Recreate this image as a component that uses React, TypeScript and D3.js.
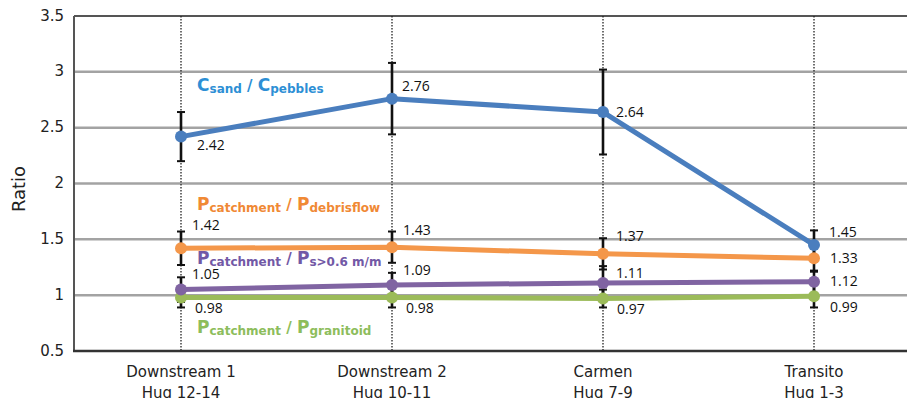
import React from "react";
import * as d3 from "d3";

const W = 907;
const H = 398;

const categories = ["Downstream 1", "Downstream 2", "Carmen", "Transito"];
const subCategories = ["Hug 12-14", "Hug 10-11", "Hug 7-9", "Hug 1-3"];

const sandPebbles = [2.42, 2.76, 2.64, 1.45];
const sandPebblesErr = [0.22, 0.32, 0.38, 0.13];
const debrisflow = [1.42, 1.43, 1.37, 1.33];
const debrisflowErr = [0.15, 0.14, 0.14, 0.12];
const coarse = [1.05, 1.09, 1.11, 1.12];
const coarseErr = [0.11, 0.11, 0.15, 0.1];
const granitoid = [0.98, 0.98, 0.97, 0.99];
const granitoidErr = [0.09, 0.09, 0.08, 0.1];

const yTicks = [0.5, 1, 1.5, 2, 2.5, 3, 3.5];

type Series = {
  values: number[];
  err: number[];
  line: string;
  text: string;
  main: string;
  subA: string;
  subB: string;
  labelAt: [number, number];
  // offset of each value label from its point: [dx, dy]
  valueOffsets: [number, number][];
};

const series: Series[] = [
  {
    values: granitoid,
    err: granitoidErr,
    line: "#9bbb59",
    text: "#8dbd5c",
    main: "P",
    subA: "catchment",
    subB: "granitoid",
    labelAt: [197, 333],
    valueOffsets: [[14, 12], [14, 12], [14, 12], [16, 12]],
  },
  {
    values: coarse,
    err: coarseErr,
    line: "#8064a2",
    text: "#7259a6",
    main: "P",
    subA: "catchment",
    subB: "s>0.6 m/m",
    labelAt: [197, 264],
    valueOffsets: [[11, -14], [11, -14], [13, -9], [16, 0]],
  },
  {
    values: debrisflow,
    err: debrisflowErr,
    line: "#f4974a",
    text: "#f08935",
    main: "P",
    subA: "catchment",
    subB: "debrisflow",
    labelAt: [197, 210],
    valueOffsets: [[11, -22], [11, -16], [13, -17], [16, 1]],
  },
  {
    values: sandPebbles,
    err: sandPebblesErr,
    line: "#4a7ebe",
    text: "#2d8fd5",
    main: "C",
    subA: "sand",
    subB: "pebbles",
    labelAt: [197, 91],
    valueOffsets: [[16, 10], [10, -11], [13, 1], [15, -12]],
  },
];

const left = 74;
const top = 16;
const bottom = 351;

const y = d3.scaleLinear().domain([0.5, 3.5]).range([bottom, top]);
const x = d3.scalePoint<string>().domain(categories).range([181, 814]);

const axisFont = "'DejaVu Sans', sans-serif";
const numFont = "'Open Sans', sans-serif";

export default function App() {
  const line = d3
    .line<number>()
    .x((_, i) => x(categories[i]) as number)
    .y((d) => y(d));

  return (
    <svg
      width={W}
      height={H}
      style={{ position: "absolute", left: 0, top: 0, background: "#fff" }}
    >
      <rect width={W} height={H} fill="#fff" />
      {/* horizontal gridlines */}
      {yTicks.slice(1, -1).map((t) => (
        <line
          key={t}
          x1={left}
          x2={W}
          y1={y(t)}
          y2={y(t)}
          stroke="#a3a3a3"
          strokeWidth={2.5}
        />
      ))}
      {/* frame */}
      <line x1={left} x2={W} y1={y(3.5)} y2={y(3.5)} stroke="#555" strokeWidth={2} />
      <line x1={left} x2={left} y1={top} y2={bottom} stroke="#555" strokeWidth={2} />
      {/* category guide lines */}
      {categories.map((c) => (
        <line
          key={c}
          x1={x(c)}
          x2={x(c)}
          y1={top}
          y2={bottom}
          stroke="#222"
          strokeWidth={1.3}
          strokeDasharray="1.5,1.5"
        />
      ))}
      <line x1={left - 1} x2={W} y1={y(0.5)} y2={y(0.5)} stroke="#333" strokeWidth={2.5} />

      {/* y tick labels */}
      {yTicks.map((t) => (
        <text
          key={t}
          x={64}
          y={y(t)}
          textAnchor="end"
          dominantBaseline="middle"
          fontFamily={axisFont}
          fontSize={15}
          fill="#222"
        >
          {String(t)}
        </text>
      ))}
      <text
        transform={`translate(25,${189}) rotate(-90)`}
        textAnchor="middle"
        fontFamily={axisFont}
        fontSize={18}
        fill="#222"
      >
        Ratio
      </text>

      {/* x tick labels */}
      {categories.map((c, i) => (
        <g key={c} fontFamily={axisFont} fontSize={15} fill="#222" textAnchor="middle">
          <text x={x(c)} y={377}>
            {c}
          </text>
          <text x={x(c)} y={398}>
            {subCategories[i]}
          </text>
        </g>
      ))}

      {/* series lines */}
      {series.map((s, si) => (
        <path
          key={"l" + si}
          d={line(s.values) || ""}
          fill="none"
          stroke={s.line}
          strokeWidth={5}
          strokeLinejoin="round"
        />
      ))}

      {/* error bars */}
      {series.map((s, si) =>
        s.values.map((v, i) => {
          const cx = x(categories[i]) as number;
          const y1 = y(v + s.err[i]);
          const y2 = y(v - s.err[i]);
          return (
            <g key={`e${si}-${i}`} stroke="#111">
              <line x1={cx} x2={cx} y1={y1} y2={y2} strokeWidth={2.6} />
              <line x1={cx - 4} x2={cx + 4} y1={y1} y2={y1} strokeWidth={2} />
              <line x1={cx - 4} x2={cx + 4} y1={y2} y2={y2} strokeWidth={2} />
            </g>
          );
        })
      )}

      {/* markers */}
      {series.map((s, si) =>
        s.values.map((v, i) => (
          <circle
            key={`m${si}-${i}`}
            cx={x(categories[i])}
            cy={y(v)}
            r={6}
            fill={s.line}
          />
        ))
      )}

      {/* value labels */}
      {series.map((s, si) =>
        s.values.map((v, i) => (
          <text
            key={`v${si}-${i}`}
            x={(x(categories[i]) as number) + s.valueOffsets[i][0]}
            y={y(v) + s.valueOffsets[i][1]}
            dominantBaseline="middle"
            fontFamily={numFont}
            fontSize={14}
            fill="#111"
          >
            {v.toFixed(2)}
          </text>
        ))
      )}

      {/* series names */}
      {series.map((s, si) => (
        <text
          key={"n" + si}
          x={s.labelAt[0]}
          y={s.labelAt[1]}
          fontFamily={axisFont}
          fontWeight="bold"
          fill={s.text}
        >
          <tspan fontSize={17}>{s.main}</tspan>
          <tspan fontSize={12} dy={2}>
            {s.subA}
          </tspan>
          <tspan fontSize={15} dy={-2}>
            {" / "}
          </tspan>
          <tspan fontSize={17}>{s.main}</tspan>
          <tspan fontSize={12} dy={2}>
            {s.subB}
          </tspan>
        </text>
      ))}
    </svg>
  );
}
